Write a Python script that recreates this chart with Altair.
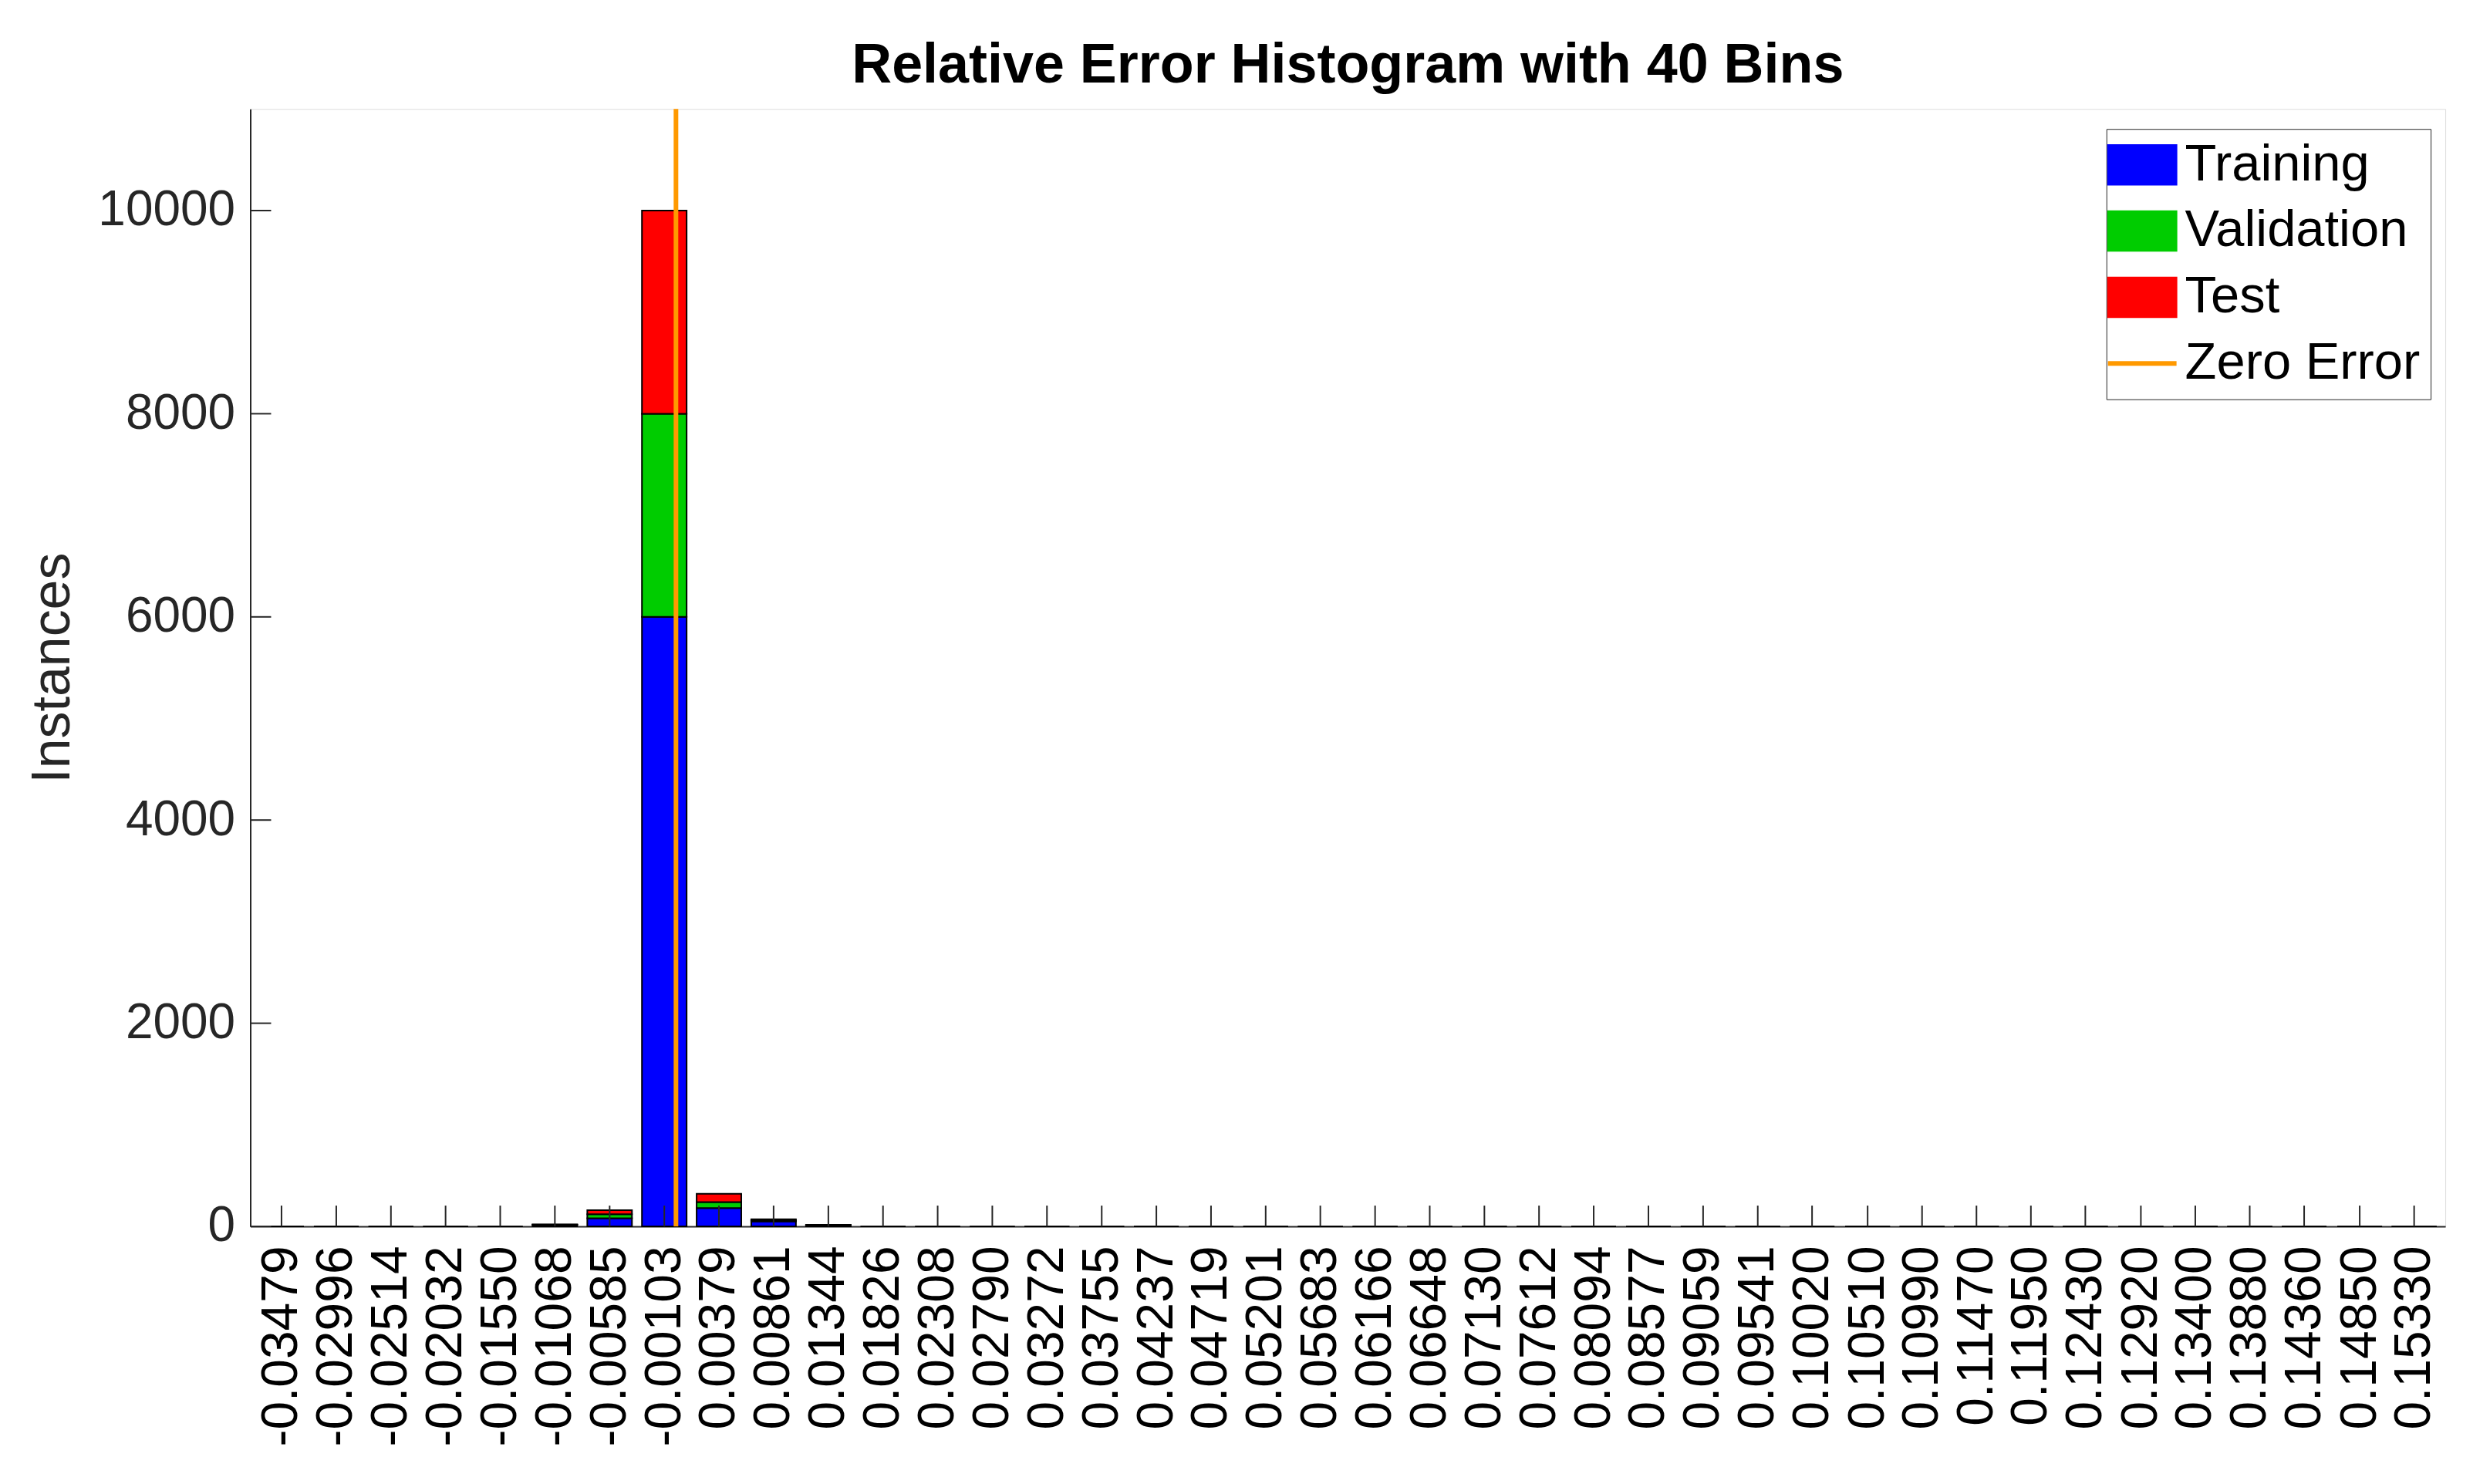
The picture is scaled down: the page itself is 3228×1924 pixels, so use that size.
import altair as alt
import pandas as pd

# ---- data ----
bin_labels = [
    -0.03479, -0.02996, -0.02514, -0.02032, -0.01550, -0.01068, -0.00585, -0.00103,
    0.00379, 0.00861, 0.01344, 0.01826, 0.02308, 0.02790, 0.03272, 0.03755,
    0.04237, 0.04719, 0.05201, 0.05683, 0.06166, 0.06648, 0.07130, 0.07612,
    0.08094, 0.08577, 0.09059, 0.09541, 0.10020, 0.10510, 0.10990, 0.11470,
    0.11950, 0.12430, 0.12920, 0.13400, 0.13880, 0.14360, 0.14850, 0.15330,
]
training = [0, 0, 0, 0, 0, 15, 80, 6000, 180, 50, 10] + [0] * 29
validation = [0, 0, 0, 0, 0, 3, 40, 2000, 60, 10, 3] + [0] * 29
test = [0, 0, 0, 0, 0, 2, 40, 2000, 80, 10, 2] + [0] * 29
series_names = ["Training", "Validation", "Test", "Zero Error"]
series_colors = ["#0000FF", "#00CC00", "#FF0000", "#FF9900"]
y_ticks = [0, 2000, 4000, 6000, 8000, 10000]
zero_error = [0.0]

FONT = "Liberation Sans"
W, H = 2850, 1451
step = (bin_labels[-1] - bin_labels[0]) / (len(bin_labels) - 1)
x_domain = [bin_labels[0] - step / 2, bin_labels[-1] + step / 2]

rows = []
for i, c in enumerate(bin_labels):
    for k, (name, vals) in enumerate(zip(series_names[:3], [training, validation, test])):
        rows.append({"center": c, "series": name, "count": vals[i], "order": k})
bars_df = pd.DataFrame(rows)
zero_df = pd.DataFrame({"x": zero_error, "series": ["Zero Error"]})
xt_df = pd.DataFrame({"center": bin_labels})
yt_df = pd.DataFrame({"v": y_ticks})

RECT = "M-1,-0.58L1,-0.58L1,0.58L-1,0.58Z"
IS_Z = "datum.value === 'Zero Error'"

x_scale = alt.Scale(domain=x_domain, nice=False, zero=False)
y_scale = alt.Scale(domain=[0, 11000], nice=False)
color_scale = alt.Scale(domain=series_names, range=series_colors)

legend = alt.Legend(
    title=None, orient="none", legendX=2410, legendY=26,
    symbolType=alt.ExprRef(expr=f"{IS_Z} ? 'stroke' : '{RECT}'"),
    symbolSize=7921,
    symbolStrokeColor=alt.ExprRef(expr=f"{IS_Z} ? '#FF9900' : 'black'"),
    symbolStrokeWidth=alt.ExprRef(expr=f"{IS_Z} ? 6 : 2"),
    symbolOpacity=1,
    labelFont=FONT, labelFontSize=67, labelColor="black", labelOffset=22,
    rowPadding=18, padding=13, strokeColor="#262626", fillColor="white",
    labelLimit=1000,
)

bars = alt.Chart(bars_df).mark_bar(width=58, stroke="black", strokeWidth=2).encode(
    x=alt.X("center:Q", scale=x_scale, axis=alt.Axis(
        values=bin_labels, labelExpr="replace(format(datum.value, '.5f'), '\u2212', '-')",
        labelAngle=270, labelFont=FONT,
        labelFontSize=66, labelColor="black", labelPadding=25, ticks=False,
        domainColor="#262626", domainWidth=2, grid=False, title=None,
        labelOverlap=False, labelBound=False, labelFlush=False, labelLimit=1000)),
    y=alt.Y("count:Q", stack="zero", scale=y_scale, axis=alt.Axis(
        values=y_ticks, format="d", labelFont=FONT, labelFontSize=64,
        labelColor="#262626", labelPadding=20, ticks=False, domainColor="#262626",
        domainWidth=2, grid=False, title="Instances", titleFont=FONT,
        titleFontSize=70, titleFontWeight="normal", titleColor="#262626",
        titlePadding=22)),
    color=alt.Color("series:N", scale=color_scale, legend=legend),
    order=alt.Order("order:Q"),
)

zero_line = alt.Chart(zero_df).mark_rule(strokeWidth=6).encode(
    x=alt.X("x:Q", scale=x_scale),
    color=alt.Color("series:N", scale=color_scale, legend=legend),
)

x_ticks = alt.Chart(xt_df).mark_rule(color="#262626", strokeWidth=2).encode(
    x=alt.X("center:Q", scale=x_scale),
    y=alt.value(H), y2=alt.value(H - 27),
)
y_ticks_marks = alt.Chart(yt_df).mark_rule(color="#262626", strokeWidth=2).encode(
    y=alt.Y("v:Q", scale=y_scale),
    x=alt.value(0), x2=alt.value(27),
)

chart = alt.layer(bars, x_ticks, y_ticks_marks, zero_line).properties(
    width=W, height=H,
    title=alt.Title("Relative Error Histogram with 40 Bins", font=FONT, fontSize=72,
                    fontWeight="bold", color="black", anchor="middle", offset=16),
    autosize=alt.AutoSizeParams(type="none"),
    padding={"left": 317, "top": 132, "right": 50, "bottom": 320},
).configure_view(stroke=None).configure(background="white")

chart.save("out.html", embed_options={"renderer": "svg", "actions": False})
